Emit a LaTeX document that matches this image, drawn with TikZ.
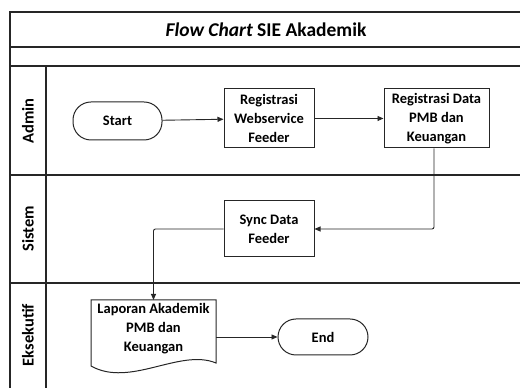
\documentclass[tikz,border=0pt]{standalone}
\usepackage{fontspec}
\setmainfont{Carlito}
\usetikzlibrary{arrows.meta}
\begin{document}
\begin{tikzpicture}[x=1pt,y=1pt,
  frame/.style={line width=1.3pt, draw=black!85},
  procbox/.style={draw=black!85, line width=1pt, fill=white, align=center, font=\fontsize{14.5}{19}\selectfont\bfseries, inner sep=1pt},
  termbox/.style={procbox, rounded corners=18pt},
  lanelabel/.style={rotate=90, font=\fontsize{16.5}{19}\selectfont\bfseries},
  flow/.style={draw=black!85, line width=0.9pt, -{Triangle[length=6pt,width=5pt]}, rounded corners=2pt}
]
\useasboundingbox (0,0) rectangle (520,388);
% frame
\draw[frame] (520,376) -- (10,376) -- (10,0);
\draw[frame] (10,341) -- (520,341);
\draw[frame] (10,322) -- (520,322);
\draw[frame] (10,213) -- (520,213);
\draw[frame] (10,105) -- (520,105);
\draw[frame] (46,322) -- (46,0);
% title and lane labels
\node (title) at (266,358) {\fontsize{19.5}{23}\selectfont\bfseries\itshape Flow Chart\upshape\ SIE Akademik};
\node[lanelabel] (ladmin) at (28,267) {Admin};
\node[lanelabel] (lsistem) at (28,159) {Sistem};
\node[lanelabel] (leks) at (28,53) {Eksekutif};
% nodes
\node[termbox, minimum width=89pt, minimum height=38pt] (start) at (117.5,267) {Start};
\node[procbox, minimum width=90pt, minimum height=59pt] (reg1) at (269,269.5) {Registrasi\\Webservice\\Feeder};
\node[procbox, minimum width=105pt, minimum height=59pt] (reg2) at (436.5,269.5) {Registrasi Data\\PMB dan\\Keuangan};
\node[procbox, minimum width=90pt, minimum height=56pt] (sync) at (269,159) {Sync Data\\Feeder};
\node[procbox, draw=none, fill=none] (doc) at (153.5,59.5) {Laporan Akademik\\PMB dan\\Keuangan};
\coordinate (docN) at (153.5,88);
\coordinate (docE) at (216,51);
\draw[draw=black!85, line width=1pt]
  (91,22) -- (91,88) -- (216,88) -- (216,25)
  .. controls (180,40) and (130,0) .. (91,22) -- cycle;
\node[termbox, minimum width=90pt, minimum height=36pt] (end) at (323,51) {End};
% connectors
\draw[flow] (start) -- (reg1);
\draw[flow] (reg1) -- (reg2);
\draw[flow] ([xshift=-2.5pt]reg2.south) |- (sync.east);
\draw[flow] (sync.west) -| (docN);
\draw[flow] (docE) -- (end.west);
\end{tikzpicture}
\end{document}
